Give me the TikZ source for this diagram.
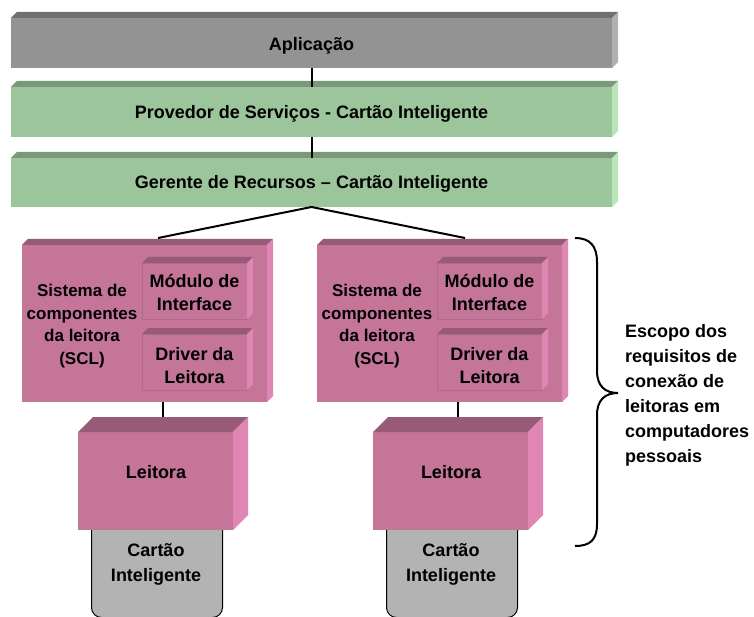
\documentclass[tikz,border=0pt]{standalone}
\usepackage{fontspec}
\setmainfont{Liberation Sans}
\definecolor{grayF}{HTML}{939393}
\definecolor{grayT}{HTML}{707070}
\definecolor{grayS}{HTML}{B0B0B0}
\definecolor{greenF}{HTML}{9CC59C}
\definecolor{greenT}{HTML}{7A987A}
\definecolor{greenS}{HTML}{B8E6B8}
\definecolor{pinkF}{HTML}{C47598}
\definecolor{pinkT}{HTML}{975B77}
\definecolor{pinkS}{HTML}{E086B2}
\definecolor{innerLine}{HTML}{B06A8C}
\definecolor{cardF}{HTML}{B3B3B3}
% #1 optional style, #2 name, #3 x1, #4 y1, #5 x2, #6 y2, #7 depth, #8 colour prefix
\newcommand{\threedbox}[8][]{%
  \node[fill=#8F, inner sep=0pt, outer sep=0pt,
        minimum width={(#5-#3)*1pt}, minimum height={(#6-#4)*1pt},
        anchor=north west, #1] (#2) at (#3,#4) {};
  \fill[#8T] (#2.north west) -- ++(#7,-#7) -- ++({#5-#3},0) -- (#2.north east) -- cycle;
  \fill[#8S] (#2.north east) -- ++(#7,-#7) -- ++(0,{#6-#4}) -- (#2.south east) -- cycle;
}
\tikzset{
  lbl/.style={font=\bfseries\fontsize{18}{23}\selectfont, align=center, inner sep=0pt},
  scl/.style={font=\bfseries\fontsize{17}{22.5}\selectfont, align=center, inner sep=0pt},
  conn/.style={draw=black, line width=2pt},
  card/.style={draw=black, line width=1pt, fill=cardF, rounded corners=10pt,
        inner sep=0pt, minimum width=131pt, minimum height=102pt, anchor=north west},
  inner/.style={draw=innerLine, line width=0.6pt}
}
\begin{document}
\begin{tikzpicture}[x=1pt, y=-1pt]
\useasboundingbox (0,0) rectangle (754,617);
\fill[white] (0,0) rectangle (754,617);

% top layers
\threedbox{app}{11}{18}{612}{68}{6}{gray}
\threedbox{prov}{11}{87}{612}{137}{6}{green}
\threedbox{ger}{11}{158}{612}{207}{6}{green}
\node[lbl] (tApp) at ([yshift=-3pt]app.center) {Aplicação};
\node[lbl] (tProv) at ([yshift=-2pt]prov.center) {Provedor de Serviços - Cartão Inteligente};
\node[lbl] (tGer) at ([yshift=-1pt]ger.center) {Gerente de Recursos – Cartão Inteligente};

% SCL blocks
\threedbox{sclL}{22}{245}{267}{402}{6}{pink}
\threedbox[inner]{modL}{142}{263}{247}{319}{6}{pink}
\threedbox[inner]{drvL}{142}{334}{247}{390}{6}{pink}
\threedbox{sclR}{317}{245}{562}{402}{6}{pink}
\threedbox[inner]{modR}{437}{263}{542}{319}{6}{pink}
\threedbox[inner]{drvR}{437}{334}{542}{390}{6}{pink}

\node[scl] (tSclL) at (82,326) {Sistema de\\componentes\\da leitora\\(SCL)};
\node[scl] (tSclR) at (377,326) {Sistema de\\componentes\\da leitora\\(SCL)};
\node[lbl] (tModL) at ([yshift=-1pt]modL.center) {Módulo de\\Interface};
\node[lbl] (tDrvL) at ([yshift=-4pt]drvL.center) {Driver da\\Leitora};
\node[lbl] (tModR) at ([yshift=-1pt]modR.center) {Módulo de\\Interface};
\node[lbl] (tDrvR) at ([yshift=-4pt]drvR.center) {Driver da\\Leitora};

% cards (behind readers)
\node[card] (cardL) at (91,515) {};
\node[card] (cardR) at (386,515) {};
\node[lbl, font=\bfseries\fontsize{18}{25}\selectfont] (tCardL) at (156,564) {Cartão\\Inteligente};
\node[lbl, font=\bfseries\fontsize{18}{25}\selectfont] (tCardR) at (451,564) {Cartão\\Inteligente};

% readers
\threedbox{leitL}{78}{432}{233}{530}{15}{pink}
\threedbox{leitR}{373}{432}{528}{530}{15}{pink}
\node[lbl] (tLeitL) at (156,472) {Leitora};
\node[lbl] (tLeitR) at (451,472) {Leitora};

% connectors
\draw[conn] (app.south) -- (prov.north);
\draw[conn] (prov.south) -- (ger.north);
\coordinate (topL) at (158,238);
\coordinate (topR) at (465,238);
\draw[conn, line join=miter] (topL) -- (ger.south) -- (topR);
\coordinate (lkL) at (163,417);
\coordinate (lkR) at (458,417);
\draw[conn] (lkL |- sclL.south) -- (lkL);
\draw[conn] (lkR |- sclR.south) -- (lkR);

% brace
\coordinate (brTop) at (575,238);
\coordinate (brTip) at (618,393);
\coordinate (brBot) at (575,546);
\draw[line width=2pt] (brTop) .. controls (590,238) and (597,246) .. (597,262)
  -- (597,371) .. controls (597,386) and (605,393) .. (brTip)
  .. controls (605,393) and (597,400) .. (597,415)
  -- (597,524) .. controls (597,540) and (590,546) .. (brBot);
\node[lbl, align=left, anchor=west, font=\bfseries\fontsize{18}{25}\selectfont] (scope) at (625,395)
  {Escopo dos\\requisitos de\\conexão de\\leitoras em\\computadores\\pessoais};
\end{tikzpicture}
\end{document}
